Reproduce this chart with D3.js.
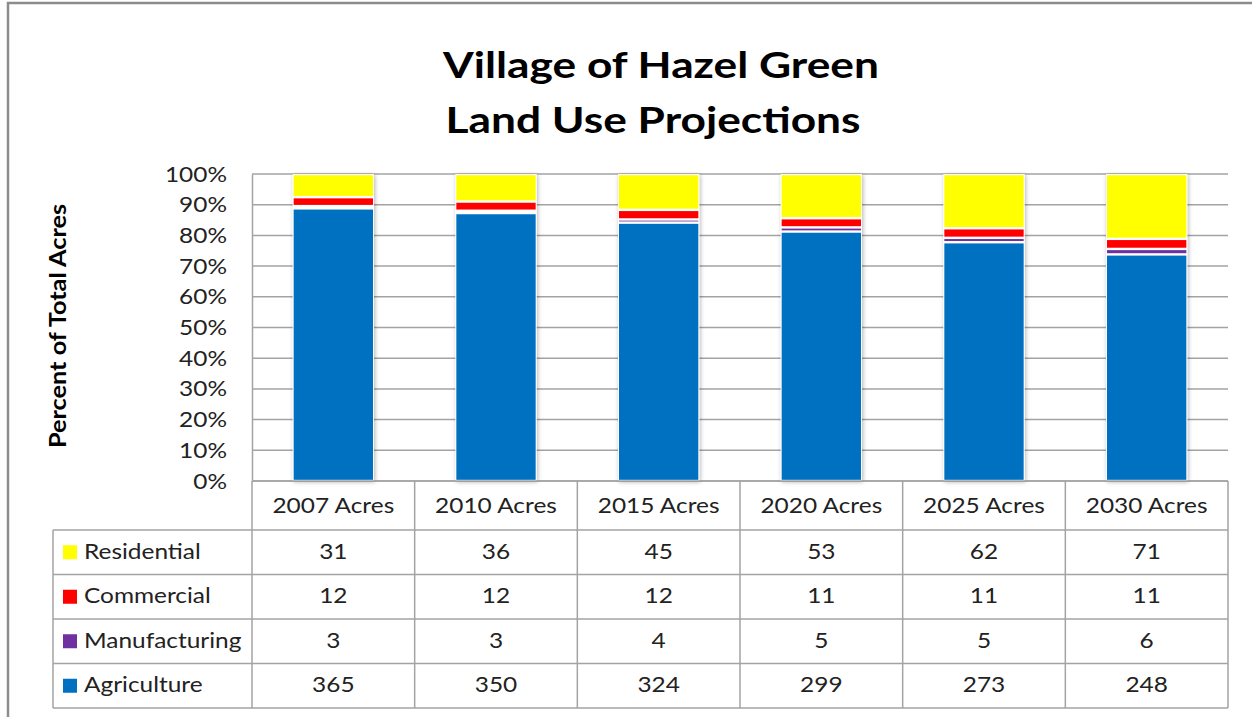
<!DOCTYPE html>
<html>
<head>
<meta charset="utf-8">
<script src="https://cdn.jsdelivr.net/npm/d3@7"></script>
<style>
  html, body { margin: 0; padding: 0; background: #fff; }
  svg { display: block; font-family: Lato, "Open Sans", sans-serif; }
</style>
</head>
<body>
<script>
const WIDTH = 1252;
const HEIGHT = 717;

const categories = ["2007 Acres", "2010 Acres", "2015 Acres", "2020 Acres", "2025 Acres", "2030 Acres"];
const seriesNames = ["Residential", "Commercial", "Manufacturing", "Agriculture"];
const seriesColors = ["#ffff00", "#ff0000", "#7030a0", "#0070c0"];
const residential = [31, 36, 45, 53, 62, 71];
const commercial = [12, 12, 12, 11, 11, 11];
const manufacturing = [3, 3, 4, 5, 5, 6];
const agriculture = [365, 350, 324, 299, 273, 248];
const yTickValues = [0, 0.1, 0.2, 0.3, 0.4, 0.5, 0.6, 0.7, 0.8, 0.9, 1];

const seriesValues = {
  Residential: residential,
  Commercial: commercial,
  Manufacturing: manufacturing,
  Agriculture: agriculture,
};

const rows = categories.map((c, i) => {
  const row = { category: c };
  for (const name of seriesNames) row[name] = seriesValues[name][i];
  return row;
});

const PLOT_LEFT = 252;
const PLOT_RIGHT = 1228;
const PLOT_TOP = 174;
const PLOT_BOTTOM = 481;
const HEADER_BOTTOM = 530;
const ROW_H = 44.5;
const TABLE_LEFT = 53;
const GRID = "#a3a3a3";
const TEXT_SX = 1.11; // reference text is drawn a bit wide

// move x/y into a transform so the text can be widened round its anchor
const stretch = (sel, sx) => {
  sel.each(function () {
    const t = d3.select(this);
    const tx = +t.attr("x") || 0;
    const ty = +t.attr("y") || 0;
    t.attr("x", null).attr("y", null)
      .attr("transform", `translate(${tx},${ty}) scale(${sx},1)`);
  });
};

const svg = d3.select("body").append("svg")
  .attr("width", WIDTH)
  .attr("height", HEIGHT);

const defs = svg.append("defs");
const shadow = defs.append("filter")
  .attr("id", "shadow")
  .attr("x", "-20%").attr("y", "-5%")
  .attr("width", "140%").attr("height", "110%");
shadow.append("feDropShadow")
  .attr("dx", 1).attr("dy", 1)
  .attr("stdDeviation", 2)
  .attr("flood-color", "#000")
  .attr("flood-opacity", 0.3);

// outer chart frame
svg.append("rect")
  .attr("x", 8).attr("y", 3)
  .attr("width", WIDTH + 20).attr("height", HEIGHT + 20)
  .attr("fill", "#fff")
  .attr("stroke", "#8c8c8c")
  .attr("stroke-width", 2.5);

// title
svg.append("g")
  .selectAll("text")
  .data([
    { text: "Village of Hazel Green", x: 661, y: 78 },
    { text: "Land Use Projections", x: 653, y: 133 },
  ])
  .join("text")
  .attr("x", (d) => d.x)
  .attr("y", (d) => d.y)
  .attr("text-anchor", "middle")
  .attr("font-weight", "bold")
  .attr("font-size", 36)
  .attr("fill", "#000")
  .text((d) => d.text)
  .call(stretch, 1.23);

const x = d3.scaleBand()
  .domain(categories)
  .range([PLOT_LEFT, PLOT_RIGHT])
  .paddingInner(0.5)
  .paddingOuter(0.25);

const col = d3.scaleBand()
  .domain(categories)
  .range([PLOT_LEFT, PLOT_RIGHT]);

const y = d3.scaleLinear()
  .domain([0, 1])
  .range([PLOT_BOTTOM, PLOT_TOP]);

// gridlines
svg.append("g")
  .selectAll("line")
  .data(yTickValues)
  .join("line")
  .attr("x1", PLOT_LEFT).attr("x2", PLOT_RIGHT)
  .attr("y1", (d) => y(d)).attr("y2", (d) => y(d))
  .attr("stroke", GRID)
  .attr("stroke-width", 1.5);

// y axis
const yAxis = svg.append("g")
  .attr("transform", `translate(${PLOT_LEFT},0)`)
  .call(d3.axisLeft(y).tickValues(yTickValues).tickFormat(d3.format(".0%")).tickSize(0).tickPadding(25));
yAxis.select(".domain").attr("stroke", GRID).attr("stroke-width", 1.5);
yAxis.selectAll("text")
  .attr("font-family", "Lato, sans-serif")
  .attr("font-size", 22)
  .attr("fill", "#222")
  .call(stretch, TEXT_SX);

svg.append("text")
  .attr("transform", "translate(66,326) rotate(-90) scale(1.15,1)")
  .attr("text-anchor", "middle")
  .attr("font-weight", "bold")
  .attr("font-size", 22)
  .attr("fill", "#000")
  .text("Percent of Total Acres");

// stacked 100% bars
const stack = d3.stack()
  .keys(seriesNames.slice().reverse())
  .offset(d3.stackOffsetExpand);
const stacked = stack(rows);
const color = d3.scaleOrdinal().domain(seriesNames).range(seriesColors);

const bars = svg.append("g");
bars.selectAll("rect.shadow")
  .data(categories)
  .join("rect")
  .attr("class", "shadow")
  .attr("x", (d) => x(d))
  .attr("y", y(1))
  .attr("width", x.bandwidth())
  .attr("height", y(0) - y(1))
  .attr("fill", "#fff")
  .attr("filter", "url(#shadow)");

bars.selectAll("g.series")
  .data(stacked)
  .join("g")
  .attr("class", "series")
  .attr("fill", (d) => color(d.key))
  .selectAll("rect")
  .data((d) => d)
  .join("rect")
  .attr("x", (d) => x(d.data.category) + 1)
  .attr("y", (d) => y(d[1]) + 1.2)
  .attr("width", x.bandwidth() - 2)
  .attr("height", (d) => Math.max(0, y(d[0]) - y(d[1]) - 2.4));

// data table
const table = svg.append("g");
const rowTop = (i) => HEADER_BOTTOM + i * ROW_H;
const tableBottom = rowTop(seriesNames.length);

const hLines = [{ x1: PLOT_LEFT, y: PLOT_BOTTOM }]
  .concat(d3.range(seriesNames.length + 1).map((i) => ({ x1: TABLE_LEFT, y: rowTop(i) })));
table.selectAll("line.h")
  .data(hLines)
  .join("line")
  .attr("class", "h")
  .attr("x1", (d) => d.x1).attr("x2", PLOT_RIGHT)
  .attr("y1", (d) => d.y).attr("y2", (d) => d.y)
  .attr("stroke", GRID).attr("stroke-width", 1.5);

const vLines = categories.map((c) => ({ x: col(c), y1: PLOT_BOTTOM }))
  .concat([{ x: PLOT_RIGHT, y1: PLOT_BOTTOM }, { x: TABLE_LEFT, y1: HEADER_BOTTOM }]);
table.selectAll("line.v")
  .data(vLines)
  .join("line")
  .attr("class", "v")
  .attr("x1", (d) => d.x).attr("x2", (d) => d.x)
  .attr("y1", (d) => d.y1).attr("y2", tableBottom)
  .attr("stroke", GRID).attr("stroke-width", 1.5);

table.selectAll("text.cat")
  .data(categories)
  .join("text")
  .attr("class", "cat")
  .attr("x", (d) => col(d) + col.bandwidth() / 2)
  .attr("y", (PLOT_BOTTOM + HEADER_BOTTOM) / 2)
  .attr("dy", "0.35em")
  .attr("text-anchor", "middle")
  .attr("font-size", 22)
  .attr("fill", "#222")
  .text((d) => d)
  .call(stretch, TEXT_SX);

const seriesRows = table.selectAll("g.row")
  .data(seriesNames)
  .join("g")
  .attr("class", "row")
  .attr("transform", (d, i) => `translate(0,${rowTop(i) + ROW_H / 2})`);

seriesRows.append("rect")
  .attr("x", 63).attr("y", -7)
  .attr("width", 14).attr("height", 14)
  .attr("fill", (d) => color(d));

seriesRows.append("text")
  .attr("x", 84)
  .attr("y", -1)
  .attr("dy", "0.35em")
  .attr("font-size", 22)
  .attr("fill", "#222")
  .text((d) => d)
  .call(stretch, TEXT_SX);

seriesRows.selectAll("text.val")
  .data((d) => seriesValues[d].map((v, i) => ({ v, c: categories[i] })))
  .join("text")
  .attr("class", "val")
  .attr("x", (d) => col(d.c) + col.bandwidth() / 2)
  .attr("y", -1)
  .attr("dy", "0.35em")
  .attr("text-anchor", "middle")
  .attr("font-size", 22)
  .attr("fill", "#222")
  .text((d) => d.v)
  .call(stretch, TEXT_SX);
</script>
</body>
</html>
